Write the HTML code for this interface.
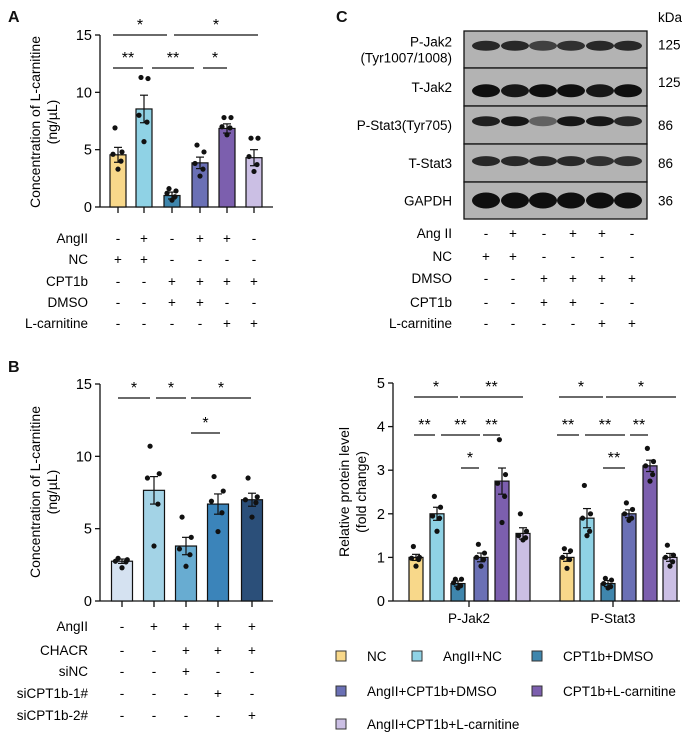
<!DOCTYPE html>
<html><head><meta charset="utf-8"><style>
body{margin:0;background:#fff}
svg{display:block;font-family:"Liberation Sans",Arial,sans-serif}
</style></head><body>
<svg id="fig" width="690" height="743" viewBox="0 0 690 743">
<g id="static" fill="#111" font-size="12">
<text x="8" y="22" font-size="16" font-weight="bold">A</text>
<text x="8" y="372" font-size="16" font-weight="bold">B</text>
<text x="336" y="22" font-size="16" font-weight="bold">C</text>
</g>
</svg>
<script>
// ---------- Data ----------
const aValues=[4.55,8.55,1.0,3.85,6.85,4.3];
const aErrors=[0.65,1.2,0.3,0.5,0.4,0.7];
const aPoints=[[6.9,4.8,4.6,4.0,3.3],[11.3,11.2,8.0,7.4,5.7],[1.6,1.4,1.2,0.9,0.6],[5.4,4.8,3.8,3.3,2.7],[7.8,7.8,7.0,6.9,6.3],[6.0,6.0,4.4,3.7,3.1]];
const aColors=["#f8d88a","#8fd2e5","#3f86ad","#6a70b5","#7c5fae","#cbbfe4"];
const aTicks=[0,5,10,15];
const aRowLabels=["AngII","NC","CPT1b","DMSO","L-carnitine"];
const aTable=[["-","+","-","+","+","-"],["+","+","-","-","-","-"],["-","-","+","+","+","+"],["-","-","+","+","-","-"],["-","-","-","-","+","+"]];
const bValues=[2.75,7.65,3.8,6.7,7.0];
const bErrors=[0.15,0.95,0.6,0.7,0.45];
const bPoints=[[2.95,2.85,2.75,2.7,2.3],[10.7,8.8,8.5,6.7,3.8],[5.8,4.4,3.6,3.2,2.4],[8.6,7.6,6.9,6.1,4.8],[8.5,7.2,7.0,6.8,5.8]];
const bColors=["#d5e2f1","#a3d3e6","#68acd1","#3b84ba","#2b4f79"];
const bRowLabels=["AngII","CHACR","siNC","siCPT1b-1#","siCPT1b-2#"];
const bTable=[["-","+","+","+","+"],["-","-","+","+","+"],["-","-","+","-","-"],["-","-","-","+","-"],["-","-","-","-","+"]];
const dGroups=["P-Jak2","P-Stat3"];
const dJak2=[1.0,2.0,0.4,1.0,2.75,1.55];
const dStat3=[1.0,1.9,0.4,2.0,3.1,1.0];
const dJak2Err=[0.07,0.15,0.06,0.1,0.3,0.13];
const dStat3Err=[0.09,0.22,0.07,0.09,0.13,0.09];
const dJak2Pts=[[1.25,1.0,0.98,0.95,0.8],[2.4,2.15,1.95,1.9,1.6],[0.5,0.5,0.42,0.35,0.3],[1.3,1.1,1.0,0.95,0.8],[3.7,2.9,2.7,2.4,1.8],[2.0,1.6,1.5,1.45,1.4]];
const dStat3Pts=[[1.2,1.15,1.0,0.95,0.75],[2.65,2.0,1.9,1.6,1.5],[0.52,0.48,0.4,0.33,0.3],[2.25,2.1,2.0,1.9,1.85],[3.5,3.2,3.1,2.9,2.75],[1.28,1.05,1.0,0.9,0.8]];
const dTicks=[0,1,2,3,4,5];
const legendLabels=["NC","AngII+NC","CPT1b+DMSO","AngII+CPT1b+DMSO","CPT1b+L-carnitine","AngII+CPT1b+L-carnitine"];
const blotLabels=["P-Jak2|(Tyr1007/1008)","T-Jak2","P-Stat3(Tyr705)","T-Stat3","GAPDH"];
const blotKda=["125","125","86","86","36"];
const cRowLabels=["Ang II","NC","DMSO","CPT1b","L-carnitine"];
const cTable=[["-","+","-","+","+","-"],["+","+","-","-","-","-"],["-","-","+","+","+","+"],["-","-","+","+","-","-"],["-","-","-","-","+","+"]];

// ---------- helpers ----------
const svg=document.getElementById('fig');
const NS="http://www.w3.org/2000/svg";
function mk(tag,attrs,parent,txt){const e=document.createElementNS(NS,tag);for(const k in attrs)e.setAttribute(k,attrs[k]);if(txt!==undefined)e.textContent=txt;(parent||svg).appendChild(e);return e;}
function line(x1,y1,x2,y2,p,w){return mk('line',{x1,y1,x2,y2,stroke:'#111','stroke-width':w||1.3},p);}

function barChart(cfg){
 const g=mk('g',{});
 
 
 const y=v=>cfg.y0-(v-cfg.vmin)*(cfg.y0-cfg.y1)/(cfg.vmax-cfg.vmin);
 line(cfg.ax,y(cfg.vmax),cfg.ax,cfg.y0,g);
 line(cfg.ax,cfg.y0,cfg.axEnd,cfg.y0,g);
 cfg.ticks.forEach(t=>{line(cfg.ax-5,y(t),cfg.ax,y(t),g);
  const tl=mk('text',{x:cfg.ax-8,y:y(t)+5,'text-anchor':'end','font-size':14.5},g,String(t));
  
  });
 const tt=mk('text',{transform:`translate(${cfg.titleX},${cfg.titleY}) rotate(-90)`,'text-anchor':'middle','font-size':14},g);
 
 
 mk('tspan',{x:0,dy:0},tt,cfg.title[0]);mk('tspan',{x:0,dy:17},tt,cfg.title[1]);
 cfg.series.forEach((s,si)=>{
  s.values.forEach((v,i)=>{
   const cx=cfg.xs(si,i);
   const r=mk('rect',{x:cx-cfg.bw/2,y:y(v),width:cfg.bw,height:cfg.y0-y(v),fill:s.colors[i],stroke:'#111','stroke-width':1.2},g);
   
   
   const e=s.err[i];
   line(cx,y(v+e),cx,y(v-e),g,1.2);
   line(cx-4,y(v+e),cx+4,y(v+e),g,1.2);line(cx-4,y(v-e),cx+4,y(v-e),g,1.2);
   s.pts[i].forEach((p,k)=>{const off=[-3,4,-5,3,0][k]*cfg.bw/16;
    const c=mk('circle',{cx:cx+off,cy:y(p),r:2.6,fill:'#111'},g);
    
    });
  });
 });
 cfg.sig.forEach(b=>{line(b[0],b[2],b[1],b[2],g,1.3);
  const st=mk('text',{x:(b[0]+b[1])/2,y:b[2]-5,'text-anchor':'middle','font-size':16},g,b[3]);
  
  });
 return g;
}
function table(rows,labels,xs,ys,labelX,name){
 const g=mk('g',{'font-size':13.5});
 
 
 labels.forEach((l,r)=>{
  const t=mk('text',{x:labelX,y:ys[r]+5,'text-anchor':'end'},g,l);
  
  
  rows[r].forEach((s,c)=>{const u=mk('text',{x:xs[c],y:ys[r]+5,'text-anchor':'middle'},g,s);
   
   });
 });
}

// Panel A
const aX=[118,144,172,200,227,254];
barChart({name:'panel-a-chart',ax:100,axEnd:273,y0:207,y1:35,vmin:0,vmax:15,ticks:aTicks,bw:16,
 title:['Concentration of L-carnitine','(ng/µL)'],titleX:40,titleY:122,
 xs:(s,i)=>aX[i],series:[{values:aValues,err:aErrors,pts:aPoints,colors:aColors}],
 sig:[[113,167,35,'*'],[174,258,35,'*'],[113,143,68,'**'],[152,194,68,'**'],[203,227,68,'*']]});
aX.forEach(x=>line(x,207,x,213));
table(aTable,aRowLabels,aX,[238,259,281,302,323],88,'panel-a-conditions');

// Panel B
const bX=[122,154,186,218,252];
barChart({name:'panel-b-chart',ax:100,axEnd:273,y0:601,y1:384,vmin:0,vmax:15,ticks:aTicks,bw:21,
 title:['Concentration of L-carnitine','(ng/µL)'],titleX:40,titleY:492,
 xs:(s,i)=>bX[i],series:[{values:bValues,err:bErrors,pts:bPoints,colors:bColors}],
 sig:[[118,150,398,'*'],[156,186,398,'*'],[191,251,398,'*'],[191,220,433,'*']]});
bX.forEach(x=>line(x,601,x,607));
table(bTable,bRowLabels,bX,[626,650,671,693,715],88,'panel-b-conditions');

// Panel D
const dX=[[416,437,458,481,502,523],[567,587,608,629,650,670]];
barChart({name:'panel-d-chart',ax:393,axEnd:680,y0:601,y1:383,vmin:0,vmax:5,ticks:dTicks,bw:14,
 title:['Relative protein level','(fold change)'],titleX:349,titleY:492,
 xs:(s,i)=>dX[s][i],
 series:[{values:dJak2,err:dJak2Err,pts:dJak2Pts,colors:aColors},{values:dStat3,err:dStat3Err,pts:dStat3Pts,colors:aColors}],
 sig:[[414,458,397,'*'],[460,523,397,'**'],[559,603,397,'*'],[606,676,397,'*'],
 [414,435,435,'**'],[441,480,435,'**'],[483,500,435,'**'],[557,579,435,'**'],[585,625,435,'**'],[630,648,435,'**'],
 [461,479,468,'*'],[603,625,468,'**']]});
[469,613].forEach((x,i)=>{line(x,601,x,607);
 const t=mk('text',{x,y:623,'text-anchor':'middle','font-size':13.5},svg,dGroups[i]);
 
 });

// Legend
const legPos=[[341,656],[417,656],[537,656],[341,691],[537,691],[341,724]];
legendLabels.forEach((l,i)=>{const [x,y]=legPos[i];
 const g=mk('g',{});
 
 
 mk('rect',{x:x-5,y:y-5,width:10,height:10,fill:aColors[i],stroke:'#333','stroke-width':1},g);
 mk('text',{x:x+26,y:y+5,'font-size':13.5},g,l);});

// Panel C blots
const laneX=[486,515,543,571,600,628];
const blotY=[31,68,106,144,182,219];
const bandInt=[[0.85,0.85,0.7,0.8,0.85,0.85],[1,0.95,1,1,0.95,1],[0.9,0.95,0.5,0.95,0.95,0.85],[0.85,0.85,0.85,0.85,0.8,0.8],[1,1,1,1,1,1]];
const bandOff=[0.4,0.6,0.4,0.45,0.5];
blotLabels.forEach((l,r)=>{
 const g=mk('g',{});
 
 
 const y0=blotY[r],y1=blotY[r+1];
 mk('rect',{x:464,y:y0,width:183,height:y1-y0,fill:'#b3b3b3',stroke:'#111','stroke-width':1.3},g);
 laneX.forEach((x,i)=>{const cy=y0+(y1-y0)*bandOff[r];const a=bandInt[r][i];
  mk('ellipse',{cx:x,cy,rx:14,ry:r==4?8:(r==1?6.5:5),fill:`rgba(15,15,15,${a})`},g);});
 const parts=l.split('|');
 parts.forEach((p,k)=>{mk('text',{x:452,y:(y0+y1)/2+5+(parts.length>1?(k-0.5)*16:0),'text-anchor':'end','font-size':13.5},g,p);});
 mk('text',{x:658,y:(y0+y1)/2+5+(r<2?-5:0),'font-size':13.5},g,blotKda[r]);
});
mk('text',{x:658,y:22,'font-size':13.5},svg,'kDa');
table(cTable,cRowLabels,[486,513,544,573,602,632],[233,256,278,302,323],452,'panel-c-conditions');
</script>
</body></html>
